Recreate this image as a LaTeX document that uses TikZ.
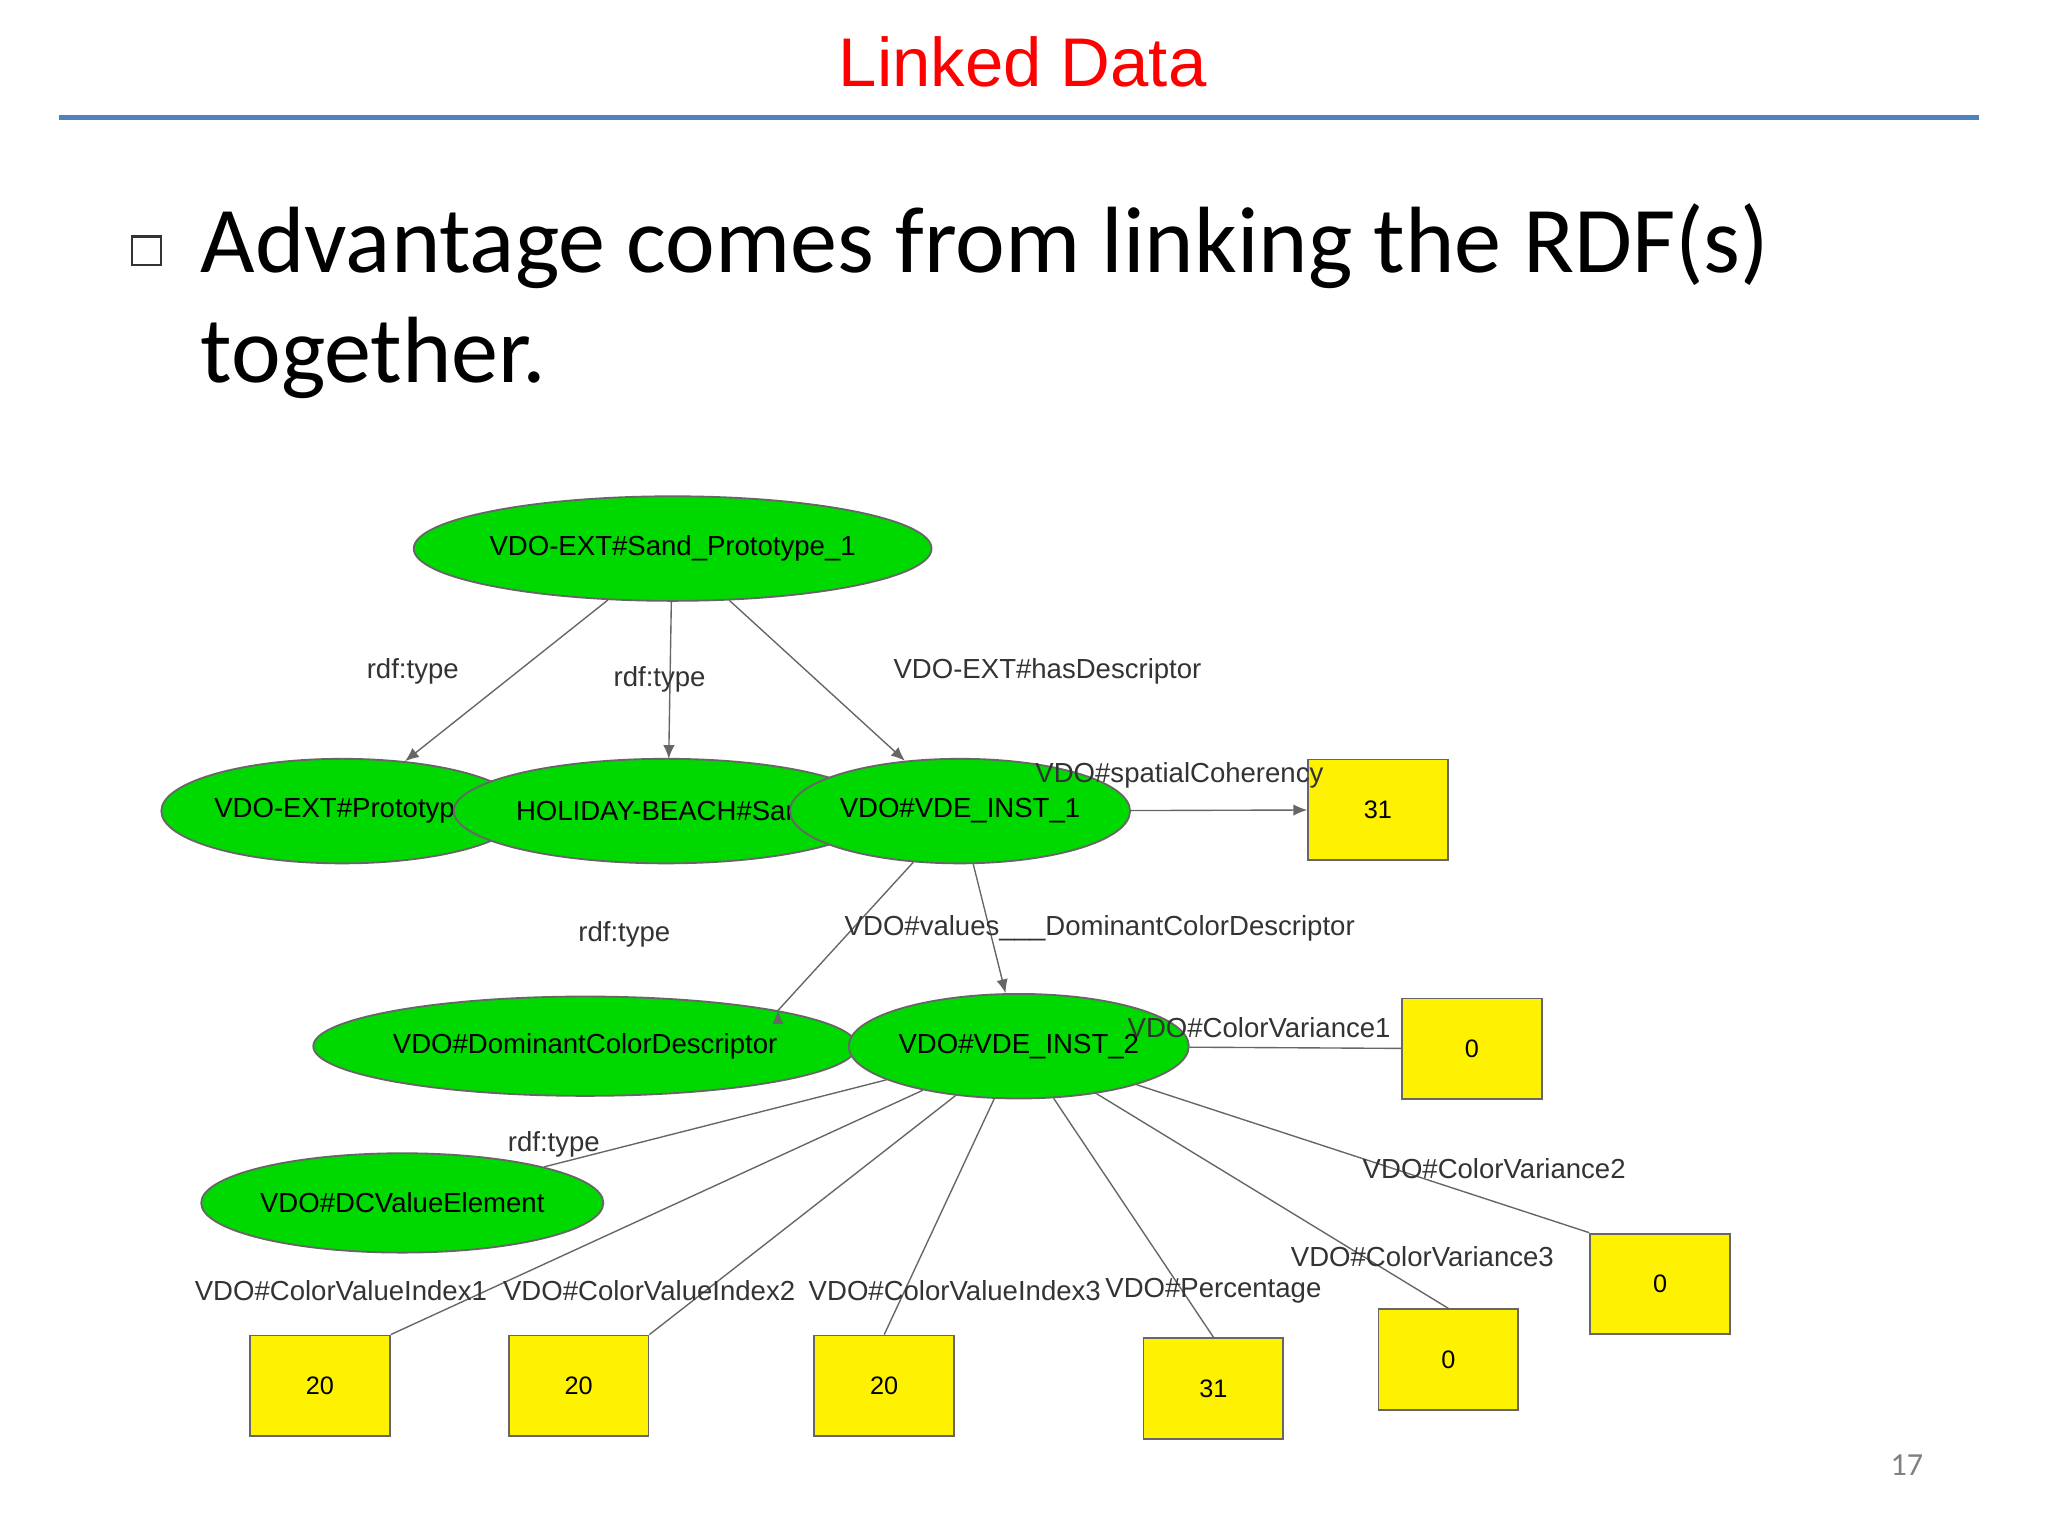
\documentclass[tikz,border=0pt]{standalone}
\usepackage{fontspec}
\setmainfont{Liberation Sans}
\newfontfamily\calib{Carlito}
\usetikzlibrary{shapes.geometric,arrows.meta}
\begin{document}
\begin{tikzpicture}[x=0.01cm,y=-0.01cm,
 ell/.style={ellipse,draw=black!60,fill=green!85!black,inner sep=0pt,font=\fontsize{6}{7}\selectfont},
 box/.style={rectangle,draw=black!60,fill=yellow,minimum width=1.07cm,minimum height=0.77cm,inner sep=0pt,font=\fontsize{5.5}{7}\selectfont},
 lab/.style={font=\fontsize{6}{7}\selectfont,text=black!80,inner sep=1pt},
 edge/.style={draw=black!60,line width=0.3pt},
 arr/.style={edge,-{Latex[length=3pt,width=2.5pt]}}]
\useasboundingbox (0,0) rectangle (1568,1176);
\fill[white] (0,0) rectangle (1568,1176);
\node[text=red,font=\fontsize{15}{18}\selectfont] (title) at (783,47) {Linked Data};
\draw[draw={rgb,255:red,79;green,129;blue,189},line width=1.2pt] (45,90) -- (1515,90);
\node[draw=black!80,line width=0.5pt,minimum size=0.22cm,inner sep=0pt] (bul) at (112,192) {};
\node[anchor=north west,align=left,font=\calib\fontsize{20.5}{24}\selectfont,inner sep=0pt] (txt) at (153,155) {Advantage comes from linking the RDF(s)\\together.};
\node[text=black!50,font=\calib\fontsize{7}{8}\selectfont] (pg) at (1460,1122) {17};

\node[ell,minimum width=2.9cm,minimum height=0.8cm] (sp) at (515,420) {VDO-EXT\#Sand\_Prototype\_1};
\node[ell,minimum width=2.24cm,minimum height=0.8cm] (pr) at (262,621) {VDO-EXT\#Prototype};
\node[ell,minimum width=2.24cm,minimum height=0.8cm] (sa) at (510,621) {HOLIDAY-BEACH\#Sand};
\node[ell,minimum width=1.9cm,minimum height=0.8cm] (i1) at (735,621) {VDO\#VDE\_INST\_1};
\node[box] (b31a) at (1055,620) {31};
\node[ell,minimum width=2.96cm,minimum height=0.76cm] (dcd) at (448,801) {VDO\#DominantColorDescriptor};
\node[ell,minimum width=1.7cm,minimum height=0.8cm] (i2) at (780,801) {VDO\#VDE\_INST\_2};
\node[box] (b0a) at (1127,803) {0};
\node[ell,minimum width=2.12cm,minimum height=0.76cm] (dcv) at (308,921) {VDO\#DCValueElement};
\node[box] (b20a) at (245,1061) {20};
\node[box] (b20b) at (443,1061) {20};
\node[box] (b20c) at (677,1061) {20};
\node[box] (b31b) at (929,1063) {31};
\node[box] (b0b) at (1109,1041) {0};
\node[box] (b0c) at (1271,983) {0};

\draw[arr] (sp) -- (pr);
\draw[arr] (514,460) -- (512,581);
\draw[arr] (sp) -- (i1);
\draw[arr] (i1) -- (b31a);
\draw[arr] (i1) -- (dcd.north east) ++(0,0);
\draw[arr] (i1) -- (i2);
\draw[edge] (i2) -- (b0a);
\draw[edge] (i2) -- (dcv);
\draw[edge] (i2) -- (b20a.north east);
\draw[edge] (i2) -- (b20b.north east);
\draw[edge] (i2) -- (b20c.north);
\draw[edge] (i2) -- (b31b.north);
\draw[edge] (i2) -- (b0b.north);
\draw[edge] (i2) -- (b0c.north west);

\node[lab] (l1) at (316,514) {rdf:type};
\node[lab] (l2) at (505,520) {rdf:type};
\node[lab] (l3) at (802,514) {VDO-EXT\#hasDescriptor};
\node[lab] (l4) at (903,594) {VDO\#spatialCoherency};
\node[lab] (l5) at (478,715) {rdf:type};
\node[lab] (l6) at (842,711) {VDO\#values\_\_\_DominantColorDescriptor};
\node[lab] (l7) at (964,787) {VDO\#ColorVariance1};
\node[lab] (l8) at (424,876) {rdf:type};
\node[lab] (l9) at (1144,895) {VDO\#ColorVariance2};
\node[lab] (l10) at (1089,962) {VDO\#ColorVariance3};
\node[lab] (l11) at (261,988) {VDO\#ColorValueIndex1};
\node[lab] (l12) at (497,988) {VDO\#ColorValueIndex2};
\node[lab] (l13) at (731,988) {VDO\#ColorValueIndex3};
\node[lab] (l14) at (929,988) {VDO\#Percentage};
\end{tikzpicture}
\end{document}
